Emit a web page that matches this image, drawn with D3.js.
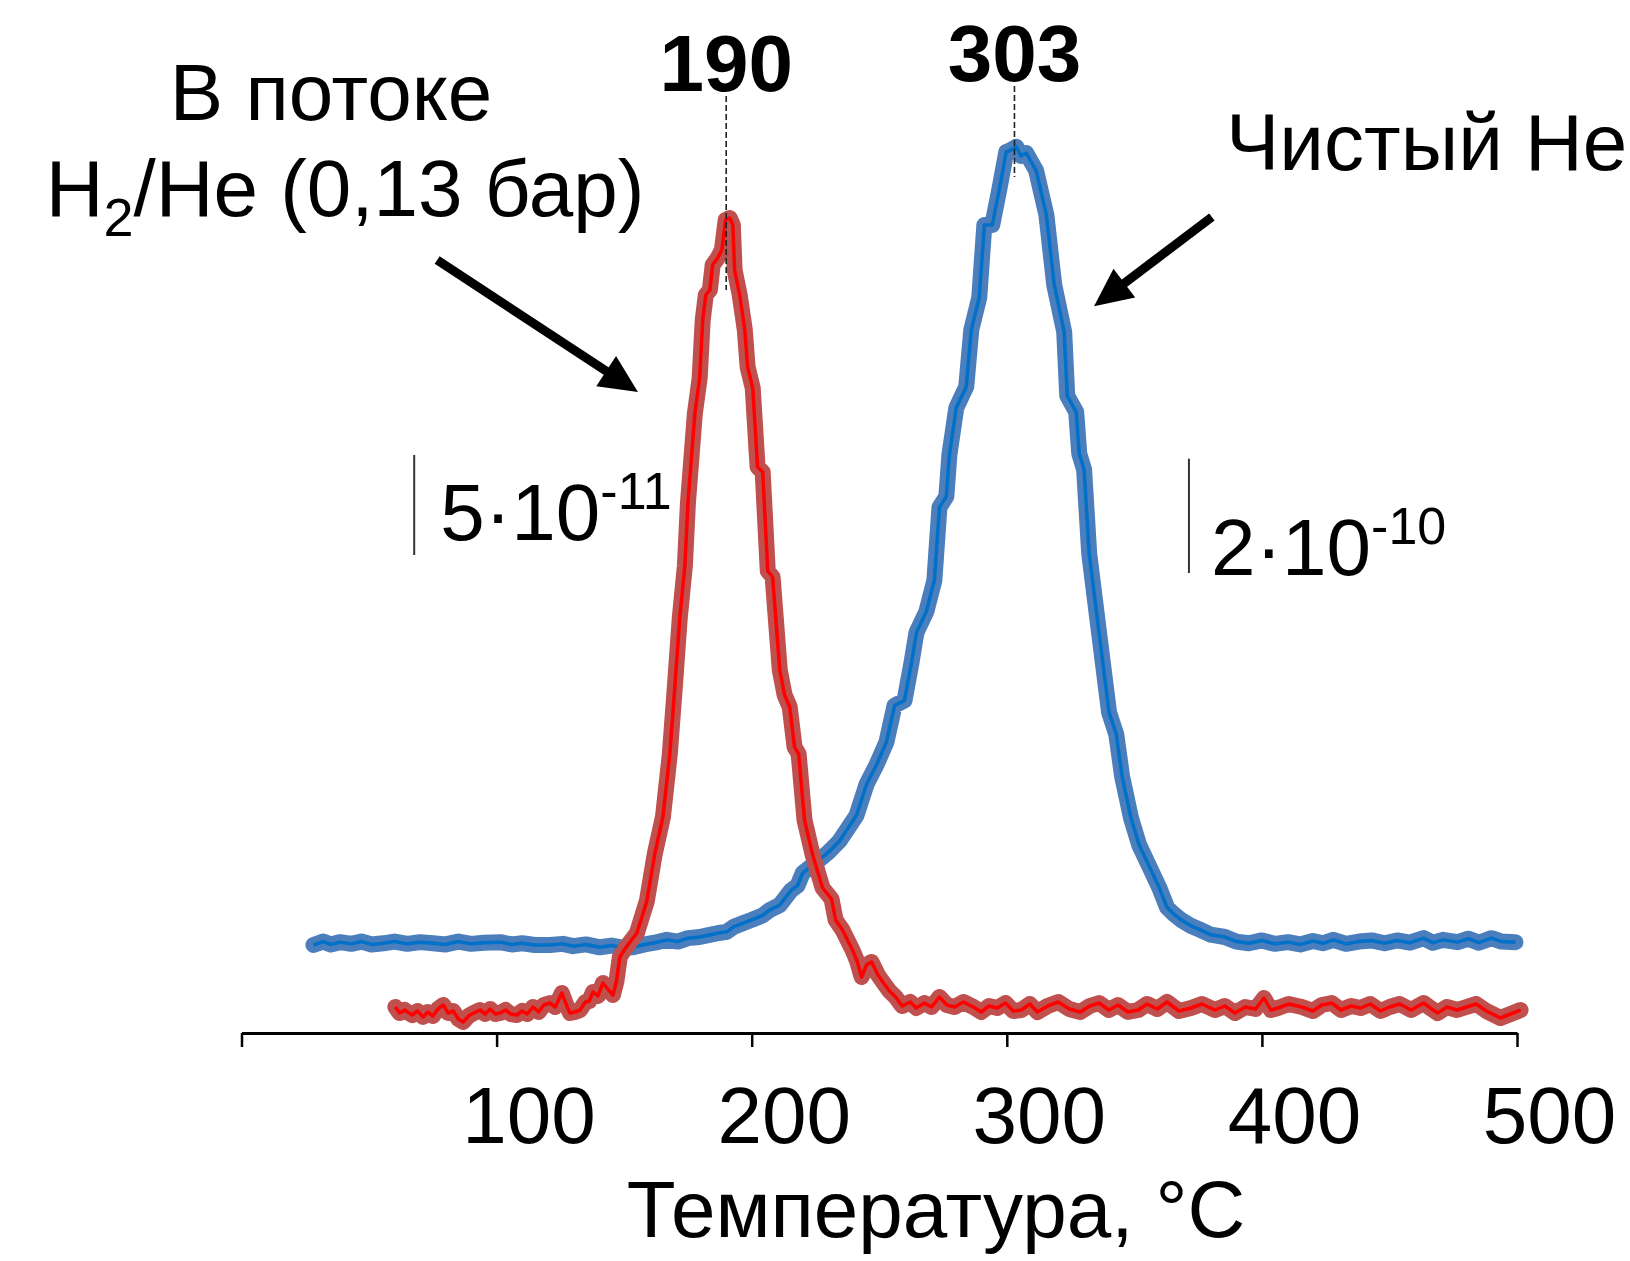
<!DOCTYPE html>
<html lang="ru">
<head>
<meta charset="utf-8">
<title>TPD H2 / He</title>
<script src="https://cdn.jsdelivr.net/npm/d3@7"></script>
<style>
  body { margin: 0; background: #fff; }
  svg text { font-family: "Liberation Sans", Arial, sans-serif; fill: #000; }
</style>
</head>
<body>
<script>
// red curve: in H2/He flow, signal in units of 1e-11
var redT = [60.3,62,64,65,67,69,71.2,73,75,77,79.1,81,83,85,86.9,89,91,93.5,95.5,97.5,99.5,101.4,103.5,105.5,108,110,112,114.3,116.5,118.5,
  120.9,123,125.6,127.2,128.8,130.7,132.7,134.8,136.3,137.8,139.7,141.7,143.6,145.6,147,148.3,150.3,152.3,155,158.9,162,165.2,167.9,169.9,
  171.8,173.8,175,177.7,179.6,180.8,182,183.6,184.7,186.7,188.3,189.8,191.4,192.6,193.3,195.3,197.3,198.4,200.4,202.3,204.3,206.3,208.2,
  211,212.9,214.9,216.8,218.4,220.7,223.9,227.8,231.3,232.9,235.6,239.5,241.3,243.1,245,247,249.5,251.7,254,256.4,259,262.2,264.5,267.7,
  270.5,273.6,276.5,279.5,283,286.9,290,293,296.3,299.5,302.5,305.7,309,312,316,320.2,324.5,328.8,332.5,336.2,340,343.6,347.5,351.5,355,
  359,362.8,367.5,372.2,376.5,381.6,385.5,389.4,393.5,397.5,400.8,403.5,406.3,410.5,415.7,420,423.5,427.4,431,435,438.7,442.5,446.5,450.1,
  454,458.5,463.4,466,468.9,472.5,476.5,480.2,484,488,493.5,497.5,501.4];
var redV = [1.30,1.00,1.15,1.05,0.90,1.10,0.80,1.05,0.85,1.20,1.40,1.00,1.10,0.70,0.55,0.85,1.00,1.15,0.95,1.20,0.95,1.00,1.15,0.95,0.90,1.10,0.95,1.30,1.05,1.40,
  1.50,1.30,2.00,1.45,1.00,1.05,1.15,1.55,1.60,2.05,1.85,2.50,2.20,1.90,2.60,3.80,4.20,4.55,5.00,6.60,8.95,10.80,13.95,17.35,
  20.75,23.35,26.50,30.95,32.75,35.65,36.90,37.15,38.40,38.75,39.15,40.65,40.75,40.40,38.15,36.90,35.15,33.30,32.25,28.30,28.05,23.10,22.80,
  18.15,16.90,16.30,14.30,13.95,10.65,8.90,7.25,6.70,5.65,5.15,4.15,3.60,2.80,3.40,3.55,2.90,2.50,2.10,1.80,1.35,1.55,1.25,1.50,
  1.30,1.80,1.40,1.30,1.55,1.30,1.05,1.35,1.25,1.50,1.10,1.15,1.45,1.05,1.35,1.55,1.20,1.05,1.35,1.50,1.15,1.40,1.05,1.15,1.45,
  1.20,1.55,1.10,1.25,1.45,1.15,1.35,1.00,1.30,1.20,1.75,1.15,1.25,1.45,1.30,1.10,1.40,1.50,1.15,1.35,1.25,1.45,1.10,1.30,
  1.45,1.15,1.50,1.25,1.00,1.30,1.15,1.30,1.45,1.10,0.75,0.95,1.15];

// blue curve: pure He, signal in units of 1e-10
var blueT = [28.2,32,35,38.7,43,47,51,55.6,60,65,70,75.1,80,85,90,95,101.4,106,110,115,120.9,126,130,135,140.5,145,150,153.4,158,162,
  166.7,171,175,179.6,184,187,190.2,193,196.5,200,204.3,207,211,215.5,218,220,225.4,230,234.4,238,241.1,245,249,252.8,256,259.9,262.6,
  264.6,268.5,271.6,273.6,276.3,277.5,280.2,284.1,286.1,289.2,291.2,294.3,297.1,299.8,301.5,303.7,305.5,307.6,309.5,311.5,315.5,318.6,
  322.5,323.7,327.2,328.4,330.3,332.3,336.2,340.1,342.9,345.2,348.7,351.9,355.8,359.7,362.8,365,368.3,372,376.1,380,385.5,390,394.9,
  400,405,410.2,415,420,424,428,433,438,443,448.1,453,458,463.4,467,471,476.7,481,485,490,494,499.4];
var blueV = [1.54,1.60,1.55,1.59,1.56,1.60,1.55,1.57,1.60,1.56,1.59,1.57,1.55,1.60,1.56,1.58,1.59,1.55,1.57,1.54,1.54,1.56,1.52,1.55,1.50,1.53,1.49,1.50,1.55,1.58,
  1.63,1.60,1.66,1.68,1.72,1.75,1.77,1.86,1.92,1.98,2.06,2.15,2.24,2.50,2.58,2.80,2.99,3.16,3.36,3.60,3.81,4.35,4.70,5.09,5.73,5.82,6.47,
  7.01,7.38,7.92,9.20,9.39,10.12,10.94,11.31,12.31,12.87,14.14,14.14,14.77,15.42,15.45,15.51,15.35,15.40,15.25,15.09,14.32,13.09,
  12.27,11.15,10.87,10.14,9.86,8.39,6.99,5.61,5.23,4.49,3.76,3.29,2.92,2.55,2.20,2.10,1.98,1.88,1.80,1.72,1.68,1.60,1.57,
  1.62,1.56,1.59,1.55,1.61,1.57,1.63,1.56,1.60,1.62,1.57,1.62,1.58,1.66,1.58,1.63,1.59,1.65,1.58,1.66,1.60,1.59];

var tickVals = [0, 100, 200, 300, 400, 500];
var peakT = [190, 303];
var xTitle = "Температура, °C";

var w = 1630, h = 1261;
var axisY = 1033, plotTop = 33;
var fs = 80;

var x = d3.scaleLinear().domain([0, 500]).range([241.5, 1517]);
var yRed = d3.scaleLinear().domain([0, 50]).range([axisY, plotTop]);
var yBlue = d3.scaleLinear().domain([0, 17.5]).range([axisY, plotTop]);

var svg = d3.select("body").append("svg")
  .attr("width", w)
  .attr("height", h);

function drawCurve(ts, vs, y, outer, inner) {
  var pts = ts.map(function(t, i) { return [t, vs[i]]; });
  var line = d3.line()
    .x(function(d) { return x(d[0]); })
    .y(function(d) { return y(d[1]); });
  svg.append("path").datum(pts)
    .attr("d", line)
    .attr("fill", "none")
    .attr("stroke", outer)
    .attr("stroke-width", 16)
    .attr("stroke-linejoin", "round")
    .attr("stroke-linecap", "round");
  svg.append("path").datum(pts)
    .attr("d", line)
    .attr("fill", "none")
    .attr("stroke", inner)
    .attr("stroke-width", 3.5)
    .attr("stroke-linejoin", "round");
}

drawCurve(blueT, blueV, yBlue, "#4a7ebd", "#0070c8");
drawCurve(redT, redV, yRed, "#c0504d", "#ff0000");

// x axis
var xAxis = d3.axisBottom(x)
  .tickValues(tickVals)
  .tickSize(14)
  .tickSizeOuter(0)
  .tickFormat(function(d) { return d ? d : ""; });

var gx = svg.append("g")
  .attr("transform", "translate(0," + axisY + ")")
  .call(xAxis);
gx.select(".domain").attr("stroke", "#000").attr("stroke-width", 3);
gx.selectAll(".tick line").attr("stroke", "#000").attr("stroke-width", 2.5);
gx.selectAll(".tick text")
  .attr("font-family", "Liberation Sans, Arial, sans-serif")
  .attr("font-size", fs)
  .attr("fill", "#000")
  .attr("dy", 0)
  .attr("y", 110)
  .attr("dx", 32);

svg.append("text")
  .attr("x", 936)
  .attr("y", 1237)
  .attr("text-anchor", "middle")
  .attr("font-size", fs)
  .text(xTitle);

// peak markers
var peakTop = [96, 86], peakBottom = [290, 177], peakLabelY = [91, 81];
peakT.forEach(function(t, i) {
  svg.append("line")
    .attr("x1", x(t)).attr("x2", x(t))
    .attr("y1", peakTop[i]).attr("y2", peakBottom[i])
    .attr("stroke", "#222")
    .attr("stroke-width", 1.6)
    .attr("stroke-dasharray", "6,3");
  svg.append("text")
    .attr("x", x(t))
    .attr("y", peakLabelY[i])
    .attr("text-anchor", "middle")
    .attr("font-size", fs)
    .attr("font-weight", "bold")
    .text(t);
});

// scale bars
function scaleBar(t, y, v0, v1, tx, ty, base, sup) {
  svg.append("line")
    .attr("x1", x(t)).attr("x2", x(t))
    .attr("y1", y(v0)).attr("y2", y(v1))
    .attr("stroke", "#333")
    .attr("stroke-width", 2);
  var txt = svg.append("text")
    .attr("x", x(t) + tx)
    .attr("y", ty)
    .attr("font-size", fs);
  txt.append("tspan").text(base);
  txt.append("tspan").attr("font-size", 52).attr("dy", -31).text(sup);
}
scaleBar(67.7, yRed, 23.9, 28.9, 26, 540, "5·10", "-11");
scaleBar(371.4, yBlue, 8.05, 10.05, 22, 575, "2·10", "-10");

// labels
svg.append("text")
  .attr("x", 331).attr("y", 120)
  .attr("text-anchor", "middle")
  .attr("font-size", fs)
  .text("В потоке");

var h2 = svg.append("text")
  .attr("x", 345).attr("y", 216)
  .attr("text-anchor", "middle")
  .attr("font-size", fs);
h2.append("tspan").text("H");
h2.append("tspan").attr("font-size", 54).attr("dy", 20).text("2");
h2.append("tspan").attr("dy", -20).text("/He (0,13 бар)");

svg.append("text")
  .attr("x", 1226).attr("y", 170)
  .attr("font-size", fs)
  .text("Чистый He");

// arrows (tail -> tip, in data coordinates of each curve)
function arrow(t1, v1, t2, v2, y) {
  var x1 = x(t1), y1 = y(v1), x2 = x(t2), y2 = y(v2);
  var dx = x2 - x1, dy = y2 - y1, len = Math.sqrt(dx * dx + dy * dy);
  var ux = dx / len, uy = dy / len, nx = -uy, ny = ux;
  var headLen = 38, half = 18;
  var bx = x2 - ux * headLen, by = y2 - uy * headLen;
  svg.append("line")
    .attr("x1", x1).attr("y1", y1)
    .attr("x2", bx + ux * 4).attr("y2", by + uy * 4)
    .attr("stroke", "#000")
    .attr("stroke-width", 9);
  svg.append("path")
    .attr("d", "M" + x2 + "," + y2 +
      "L" + (bx + nx * half) + "," + (by + ny * half) +
      "L" + (bx - nx * half) + "," + (by - ny * half) + "Z")
    .attr("fill", "#000");
}
arrow(76.7, 38.65, 155.4, 32.05, yRed);
arrow(380.4, 14.28, 334.2, 12.72, yBlue);
</script>
</body>
</html>
